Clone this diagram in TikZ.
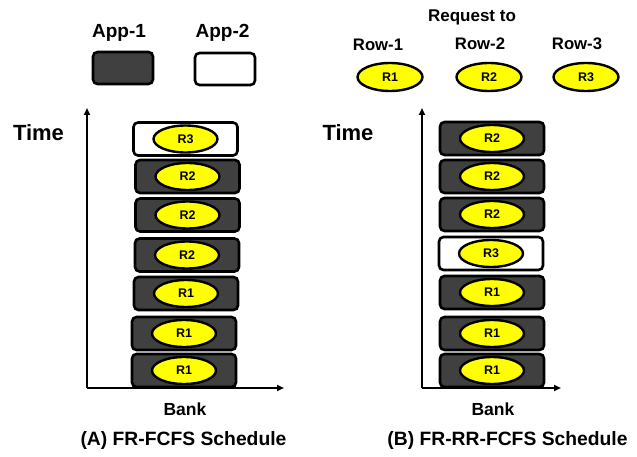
\documentclass[tikz,border=0pt]{standalone}
\usepackage{fontspec}
\setmainfont{Liberation Sans}
\usetikzlibrary{shapes.geometric,arrows.meta}
\definecolor{slot}{HTML}{404040}
\definecolor{req}{HTML}{FFFF00}
\tikzset{
  slotbox/.style={draw=black,line width=2.6pt,rounded corners=4.5pt,minimum width=104pt,minimum height=33pt,fill=slot},
  freebox/.style={slotbox,fill=white},
  legbox/.style={draw=black,line width=2.6pt,rounded corners=4.5pt,minimum width=60pt,minimum height=32pt},
  reqell/.style={ellipse,draw=black,line width=2.4pt,fill=req,minimum width=64pt,minimum height=27pt,inner sep=0pt,font=\bfseries\fontsize{12.5}{14}\selectfont},
  axis/.style={line width=1.8pt,-{Triangle[length=7pt,width=6pt]}},
  timelab/.style={font=\bfseries\fontsize{22}{24}\selectfont},
  applab/.style={font=\bfseries\fontsize{19}{22}\selectfont},
  rowlab/.style={font=\bfseries\fontsize{16.7}{19}\selectfont},
  banklab/.style={font=\bfseries\fontsize{17.5}{20}\selectfont},
  caplab/.style={font=\bfseries\fontsize{19.3}{22}\selectfont}
}
\begin{document}
\begin{tikzpicture}[x=1pt,y=-1pt]
\useasboundingbox (0,0) rectangle (637,457);
% legend
\node[applab] (app1) at (119,33) {App-1};
\node[applab] (app2) at (222.5,33) {App-2};
\node[legbox,fill=slot] (leg1) at (123,68) {};
\node[legbox,fill=white] (leg2) at (225,69) {};
\node[font=\bfseries\fontsize{17}{19}\selectfont] (reqto) at (472,17) {Request to};
\node[rowlab] (row1) at (378,45) {Row-1};
\node[rowlab] (row2) at (480,44) {Row-2};
\node[rowlab] (row3) at (577,44) {Row-3};
\node[reqell,minimum width=65pt,minimum height=28pt] (k1) at (390,77) {R1};
\node[reqell,minimum width=65pt,minimum height=28pt] (k2) at (489,77) {R2};
\node[reqell,minimum width=65pt,minimum height=28pt] (k3) at (586,77) {R3};
% left panel axes
\coordinate (ao) at (87,388);
\coordinate (ay) at (87,108);
\coordinate (ax) at (284,388);
\draw[axis] (ao) -- (ay);
\draw[axis] (ao) -- (ax);
\node[timelab] (timeA) at (38.5,133) {Time};
\node[banklab] (bankA) at (185,409) {Bank};
\node[caplab] (capA) at (183.5,441) {(A) FR-FCFS Schedule};
% left slots
\node[freebox] (a7) at (185.5,139) {};
\node[slotbox] (a6) at (187.5,176.5) {};
\node[slotbox] (a5) at (187.5,215) {};
\node[slotbox] (a4) at (187,255) {};
\node[slotbox] (a3) at (186,293.5) {};
\node[slotbox] (a2) at (184,333.5) {};
\node[slotbox] (a1) at (184,370.5) {};
\node[reqell] at (a7) {R3};
\node[reqell] at (a6) {R2};
\node[reqell] at (a5) {R2};
\node[reqell] at (a4) {R2};
\node[reqell] at (a3) {R1};
\node[reqell] at (a2) {R1};
\node[reqell] at (a1) {R1};
% right panel axes
\coordinate (bo) at (422,388);
\coordinate (by) at (422,108);
\coordinate (bx) at (561,388);
\draw[axis] (bo) -- (by);
\draw[axis] (bo) -- (bx);
\node[timelab] (timeB) at (348,133) {Time};
\node[banklab] (bankB) at (493,409) {Bank};
\node[caplab] (capB) at (507.5,441) {(B) FR-RR-FCFS Schedule};
% right slots
\node[slotbox] (b7) at (492,138.5) {};
\node[slotbox] (b6) at (492,176.5) {};
\node[slotbox] (b5) at (492,214.5) {};
\node[freebox] (b4) at (491,253.5) {};
\node[slotbox] (b3) at (492,292.5) {};
\node[slotbox] (b2) at (492,333.5) {};
\node[slotbox] (b1) at (492,370.5) {};
\node[reqell] at (b7) {R2};
\node[reqell] at (b6) {R2};
\node[reqell] at (b5) {R2};
\node[reqell] at (b4) {R3};
\node[reqell] at (b3) {R1};
\node[reqell] at (b2) {R1};
\node[reqell] at (b1) {R1};
\end{tikzpicture}
\end{document}
